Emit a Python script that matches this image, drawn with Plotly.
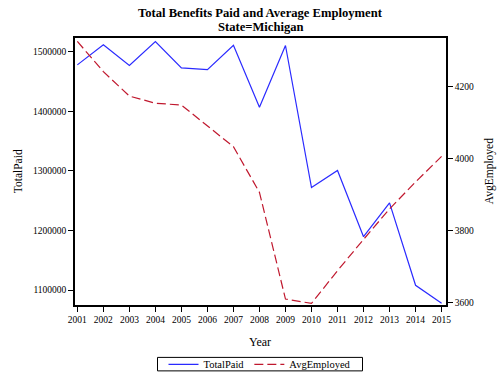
import plotly.graph_objects as go

years = list(range(2001, 2016))
total_paid = [1478000, 1511700, 1477000, 1517000, 1473000, 1470000, 1511000,
              1406700, 1510500, 1272000, 1300700, 1189500, 1246400, 1108000, 1077900]
avg_employed = [4326, 4242, 4174, 4154, 4149, 4091, 4033,
                3906, 3609, 3597, 3688, 3775, 3860, 3935, 4006]
left_ticks = [1100000, 1200000, 1300000, 1400000, 1500000]
right_ticks = [3600, 3800, 4000, 4200]

FONT = "Liberation Serif, Times New Roman, serif"
W, H = 502, 374
L, R, T, B = 75, 56, 37.5, 69

fig = go.Figure()
fig.add_trace(go.Scatter(x=years, y=total_paid, name="TotalPaid", mode="lines",
                         line=dict(color="#2a2aff", width=1.2)))
fig.add_trace(go.Scatter(x=years, y=avg_employed, name="AvgEmployed", mode="lines",
                         line=dict(color="#c0182e", width=1.2, dash="9px,4px"),
                         yaxis="y2"))

def py(ypix):
    return 1 - (ypix - T) / (H - T - B)

def px(xpix):
    return (xpix - L) / (W - L - R)

annotations = [
    dict(text="<b>Total Benefits Paid and Average Employment</b>", x=0.5, y=py(12),
         xref="paper", yref="paper", showarrow=False, xanchor="center", yanchor="middle",
         font=dict(family=FONT, size=12.6, color="black")),
    dict(text="<b>State=Michigan</b>", x=0.5, y=py(26),
         xref="paper", yref="paper", showarrow=False, xanchor="center", yanchor="middle",
         font=dict(family=FONT, size=12.6, color="black")),
    dict(text="TotalPaid", x=px(18), y=py(171), textangle=-90,
         xref="paper", yref="paper", showarrow=False, xanchor="center", yanchor="middle",
         font=dict(family=FONT, size=11.5, color="black")),
    dict(text="AvgEmployed", x=px(489), y=py(171), textangle=-90,
         xref="paper", yref="paper", showarrow=False, xanchor="center", yanchor="middle",
         font=dict(family=FONT, size=11.5, color="black")),
    dict(text="Year", x=px(260), y=py(342),
         xref="paper", yref="paper", showarrow=False, xanchor="center", yanchor="middle",
         font=dict(family=FONT, size=12, color="black")),
]

shapes = [
    dict(type="rect", xref="paper", yref="paper",
         x0=px(157.5), x1=px(362.5), y0=py(371), y1=py(357.5),
         line=dict(color="black", width=1), fillcolor="rgba(0,0,0,0)"),
]

fig.update_layout(
    width=W, height=H,
    margin=dict(l=L, r=R, t=T, b=B, autoexpand=False),
    paper_bgcolor="white", plot_bgcolor="white",
    font=dict(family=FONT, size=10, color="black"),
    showlegend=True,
    annotations=annotations,
    shapes=shapes,
    legend=dict(orientation="h", x=px(260), xref="paper", xanchor="center",
                y=py(364.5), yanchor="middle", borderwidth=0,
                bgcolor="rgba(0,0,0,0)",
                font=dict(family=FONT, size=10.5), tracegroupgap=0,
                itemwidth=30),
    xaxis=dict(range=[2000.91, 2015.17], tickvals=years, ticktext=[str(y) for y in years],
               showgrid=False, zeroline=False, showline=True, linecolor="black", linewidth=1.5,
               mirror=True, ticks="outside", ticklen=5, tickcolor="black", automargin=False,
               tickfont=dict(family=FONT, size=9.5)),
    yaxis=dict(range=[1074900, 1523100], tickvals=left_ticks,
               ticktext=[str(v) for v in left_ticks],
               showgrid=False, zeroline=False, showline=True, linecolor="black", linewidth=1.5,
               mirror=True, ticks="outside", ticklen=5, tickcolor="black", automargin=False,
               tickfont=dict(family=FONT, size=9.5)),
    yaxis2=dict(range=[3592.5, 4335.6], tickvals=right_ticks,
                ticktext=[str(v) for v in right_ticks],
                overlaying="y", side="right",
                showgrid=False, zeroline=False, showline=True, linecolor="black", linewidth=1.5,
                ticks="outside", ticklen=5, tickcolor="black", automargin=False,
                tickfont=dict(family=FONT, size=9.5)),
)

fig.write_html("out.html",
               config={"displayModeBar": False},
               post_script="document.body.style.margin='0';document.body.style.padding='0';")
